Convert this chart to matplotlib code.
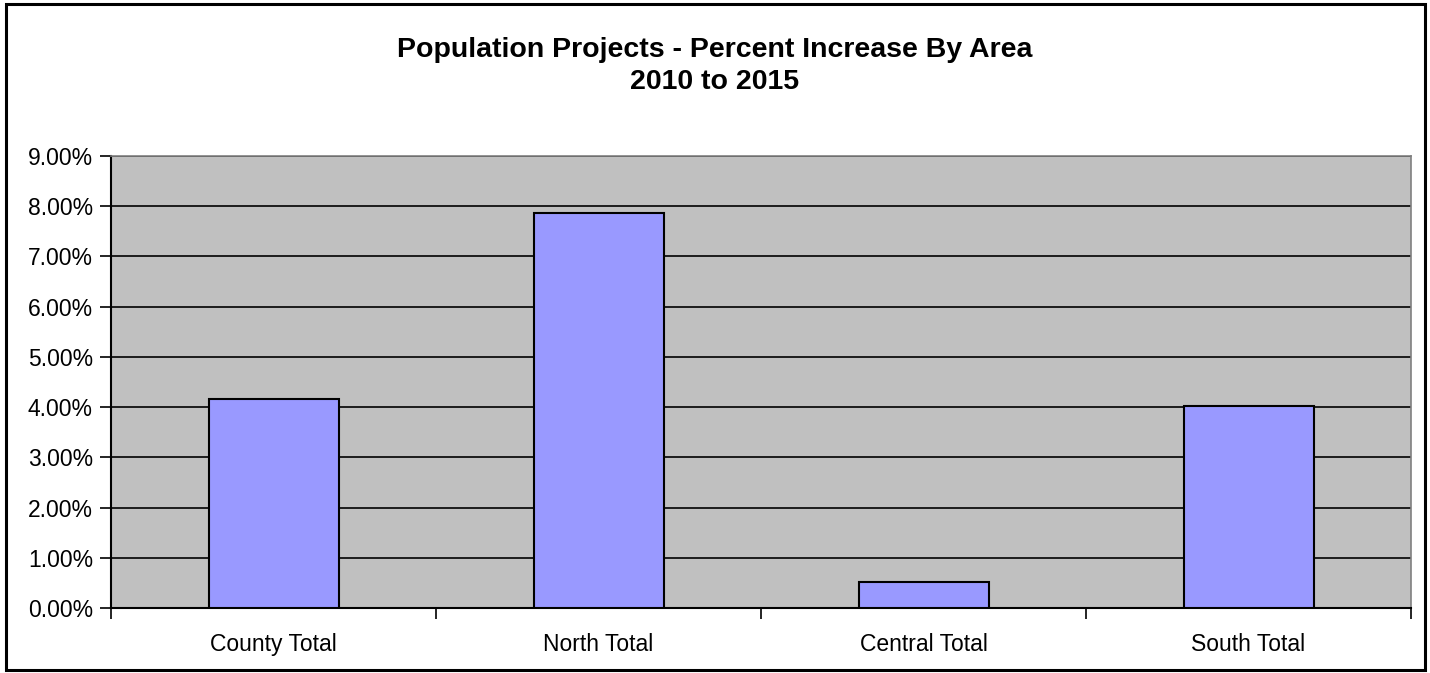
import matplotlib.pyplot as plt
import numpy as np
from matplotlib.patches import Rectangle
from matplotlib.ticker import FuncFormatter

plt.rcParams['font.family'] = ['Liberation Sans', 'DejaVu Sans']

# data
areas = ['County Total', 'North Total', 'Central Total', 'South Total']
pct_increase = [4.17, 7.87, 0.52, 4.03]
y_ticks = np.arange(0, 10, 1)

fig = plt.figure(figsize=(14.3, 6.73), dpi=100)
W, H = 1430, 673
ax = fig.add_axes([111/W, 1 - 608/H, 1300/W, 452/H])

x = np.arange(len(areas))
ax.bar(x, pct_increase, width=0.40, color='#9999FF', edgecolor='black',
       linewidth=1.5, zorder=3)

ax.set_facecolor('#C0C0C0')
ax.set_xlim(-0.5, len(areas) - 0.5)
ax.set_ylim(0, 9)
ax.set_yticks(y_ticks)
ax.yaxis.set_major_formatter(FuncFormatter(lambda v, p: f'{v:.2f}%'))
ax.grid(axis='y', color='black', linewidth=1.2, zorder=1)

# category labels centred, ticks between categories (Excel style)
ax.set_xticks(x)
ax.set_xticklabels(areas, fontsize=16.5)
ax.tick_params(axis='x', length=0, pad=18)
ax.set_xticks(np.arange(-0.5, len(areas)), minor=True)
ax.tick_params(axis='x', which='minor', length=8, width=1.2, color='black',
               direction='out')
ax.tick_params(axis='y', length=8, width=1.2, labelsize=16.5, pad=5)

for s in ['top', 'right']:
    ax.spines[s].set_color('#808080')
    ax.spines[s].set_linewidth(1.2)
for s in ['left', 'bottom']:
    ax.spines[s].set_color('black')
    ax.spines[s].set_linewidth(1.5)

fig.text(0.5, 1 - 50/H, 'Population Projects - Percent Increase By Area',
         ha='center', va='center', fontsize=20.5, fontweight='bold')
fig.text(0.5, 1 - 82/H, '2010 to 2015', ha='center', va='center',
         fontsize=20.5, fontweight='bold')

# chart area border
fig.patches.append(Rectangle((6/W, 3/H), 1419/W, 1 - 7/H, transform=fig.transFigure,
                             fill=False, edgecolor='black', linewidth=2.2))

fig.savefig('out.png', dpi=100)
